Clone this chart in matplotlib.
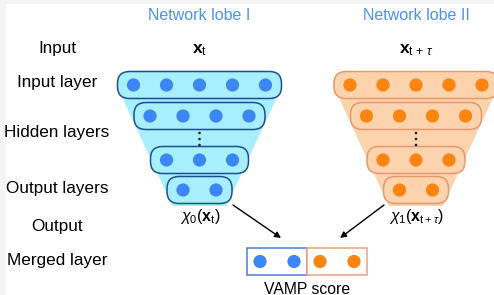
import matplotlib
matplotlib.use("Agg")
import matplotlib.pyplot as plt
from matplotlib.patches import FancyBboxPatch, Circle, Polygon, Rectangle

plt.rcParams['font.family'] = ['Liberation Sans', 'DejaVu Sans']
plt.rcParams['mathtext.fontset'] = 'custom'
plt.rcParams['mathtext.rm'] = 'Liberation Sans'
plt.rcParams['mathtext.it'] = 'Liberation Sans:italic'
plt.rcParams['mathtext.bf'] = 'Liberation Sans:bold'

# ---- content ----
row_labels = ["Input", "Input layer", "Hidden layers", "Output layers", "Output", "Merged layer"]
layer_sizes = [5, 4, 3, 2]
lobe_titles = ["Network lobe I", "Network lobe II"]
lobe_inputs = [r"$\mathbf{x}_{\mathrm{t}}$", r"$\mathbf{x}_{\mathrm{t}\,+\,\tau}$"]
lobe_outputs = [r"$\chi_0(\mathbf{x}_{\mathrm{t}})$", r"$\chi_1(\mathbf{x}_{\mathrm{t}+\tau})$"]
merged_counts = [2, 2]
score_label = "VAMP score"

# ---- styles ----
dot_col = ["#3d87f5", "#fd8410"]
fill_col = ["#a7effd", "#fdd3ad"]
pill_edge = ["#1f4f93", "#e39a70"]
title_col = "#4a92f2"
box_edge = ["#4a7fd2", "#eaa07c"]

fig = plt.figure(figsize=(4.94, 2.95), dpi=100)
fig.patch.set_facecolor("#f4f4f4")
ax = fig.add_axes([0, 0, 1, 1])
ax.set_xlim(0, 494)
ax.set_ylim(295, 0)
ax.axis("off")
ax.add_patch(Rectangle((6, 4), 494, 295, facecolor="white", edgecolor="none", zorder=0))

centers = [199.5, 416]
row_y = [85, 116, 160, 190]
spacing = 33
r_dot = 6.6
pill_h = 27

for k, cx in enumerate(centers):
    # funnel
    top_half = 83
    bot_half = 27
    poly = Polygon([(cx - top_half, 85), (cx + top_half, 85),
                    (cx + bot_half, 206), (cx - bot_half, 206)],
                   closed=True, facecolor=fill_col[k], edgecolor="none", zorder=1)
    ax.add_patch(poly)
    for n, y in zip(layer_sizes, row_y):
        w = (n - 1) * spacing + 32
        pill = FancyBboxPatch((cx - w / 2, y - pill_h / 2), w, pill_h,
                              boxstyle="round,pad=0,rounding_size=12",
                              facecolor=fill_col[k], edgecolor=pill_edge[k],
                              linewidth=1.1, zorder=2)
        ax.add_patch(pill)
        for i in range(n):
            x = cx + (i - (n - 1) / 2) * spacing
            ax.add_patch(Circle((x, y), r_dot, facecolor=dot_col[k],
                                edgecolor="none", zorder=3))
    for dy in (133, 139, 145):
        ax.add_patch(Circle((cx, dy), 1.3, facecolor="#222222", edgecolor="none", zorder=3))
    ax.text(cx, 15, lobe_titles[k], color=title_col, fontsize=11.5,
            ha="center", va="center")
    ax.text(cx, 50, lobe_inputs[k], color="black", fontsize=12.5,
            ha="center", va="center")
    ax.text(cx + 1, 217, lobe_outputs[k], color="black", fontsize=11.5,
            ha="center", va="center")

# left labels
label_y = [49, 83, 132, 188, 226, 261]
for lab, y in zip(row_labels, label_y):
    ax.text(57, y, lab, fontsize=12.3, ha="center", va="center", color="black")

# arrows
ax.annotate("", xy=(281, 238), xytext=(233, 205),
            arrowprops=dict(arrowstyle="-|>", color="black", lw=1.0,
                            mutation_scale=9, shrinkA=0, shrinkB=0))
ax.annotate("", xy=(340, 238), xytext=(384, 205),
            arrowprops=dict(arrowstyle="-|>", color="black", lw=1.0,
                            mutation_scale=9, shrinkA=0, shrinkB=0))

# merged layer
bx = 247
bw = 60
for k, n in enumerate(merged_counts):
    x0 = bx + k * bw
    ax.add_patch(Rectangle((x0, 248), bw, 27, facecolor="white",
                           edgecolor=box_edge[k], linewidth=1.1, zorder=2))
    for i in range(n):
        ax.add_patch(Circle((x0 + 13 + i * 34, 261.5), r_dot,
                            facecolor=dot_col[k], edgecolor="none", zorder=3))
ax.text(307, 289, score_label, fontsize=11.3, ha="center", va="center", color="black")

fig.savefig("out.png", dpi=100)
